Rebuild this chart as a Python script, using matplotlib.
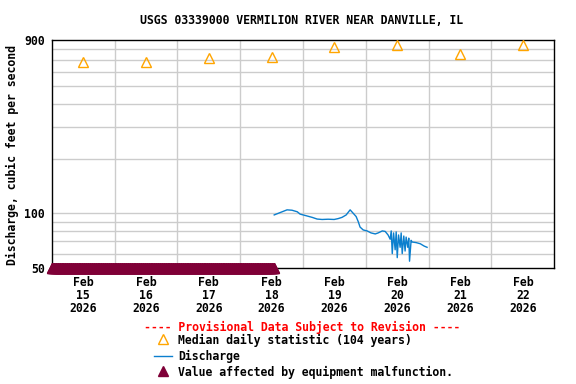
import numpy as np
import pandas as pd
import matplotlib
matplotlib.use('Agg')
import matplotlib.pyplot as plt
import matplotlib.dates as mdates
from matplotlib.lines import Line2D

plt.rcParams['font.family'] = ['DejaVu Sans Mono']
plt.rcParams['font.weight'] = 'bold'
plt.rcParams['font.size'] = 8.3

# data
start = pd.Timestamp('2026-02-15 00:00')
median_days = ['2026-02-15', '2026-02-16', '2026-02-17', '2026-02-18',
               '2026-02-19', '2026-02-20', '2026-02-21', '2026-02-22']
median_cfs = [678, 678, 714, 725, 820, 846, 750, 846]

# discharge, hours after Feb 15 00:00
q_hours = [85.0, 87.3, 88.8, 89.9, 91.8, 93.8, 94.9, 97.2, 99.5, 101.4,
           103.3, 105.6, 107.9, 109.4, 110.9, 112.5, 114.0, 115.2, 116.3, 117.1,
           117.8, 119.0, 120.5, 122.0, 123.6, 124.7, 126.3, 127.4, 128.5,
           129.3, 129.7, 130.1, 130.6, 131.2, 131.6, 132.0, 132.5, 133.1, 133.5,
           133.9, 134.5, 135.0, 135.4, 136.0, 136.4, 136.7, 137.3, 137.7,
           139.2, 140.8, 142.3, 143.4]
q_cfs = [98, 101, 103, 104.5, 104, 102, 99, 97, 95, 93,
         92.5, 92.8, 92.5, 93.5, 95, 98, 104.5, 100, 96, 90,
         84, 81, 80, 78, 77, 78, 80, 79.5, 76,
         72, 80, 60, 78, 63, 79, 57, 76, 65, 78,
         60, 75, 62, 74, 65, 73, 54.5, 71, 69.5,
         69, 68, 66, 65]

# equipment malfunction period (values drawn at the bottom of the axis)
malf_start = '2026-02-15 00:00'
malf_end = '2026-02-18 13:00'

tick_days = median_days
yticks = [50, 100, 900]

W, H = 576, 384
fig = plt.figure(figsize=(W / 100, H / 100), dpi=100)
ax = fig.add_axes([51.7 / W, 1 - 268 / H, (554.3 - 51.7) / W, (268 - 40) / H])

ax.set_yscale('log')
ax.set_ylim(50, 900)
ax.set_xlim(start, start + pd.Timedelta(days=8))

# grid
minor_y = [60, 70, 80, 90, 200, 300, 400, 500, 600, 700, 800]
for v in minor_y + [100]:
    ax.axhline(v, color='#cccccc', lw=1, zorder=0)
for d in range(1, 8):
    ax.axvline(start + pd.Timedelta(days=d), color='#cccccc', lw=1, zorder=0)

ax.set_yticks(yticks)
ax.set_yticklabels([str(v) for v in yticks])
ax.yaxis.set_minor_locator(matplotlib.ticker.NullLocator())
ax.yaxis.set_minor_formatter(matplotlib.ticker.NullFormatter())

xt = [pd.Timestamp(d) + pd.Timedelta(hours=12) for d in tick_days]
ax.set_xticks(xt)
ax.set_xticklabels([pd.Timestamp(d).strftime('%b\n%d\n%Y') for d in tick_days],
                   linespacing=1.0)
ax.tick_params(axis='x', length=0, pad=6)
ax.tick_params(axis='y', length=0, pad=5)
for s in ax.spines.values():
    s.set_linewidth(1)

# median triangles
mx = [pd.Timestamp(d) + pd.Timedelta(hours=12) for d in median_days]
ax.plot(mx, median_cfs, linestyle='none', marker='^', markersize=7.5,
        markerfacecolor='none', markeredgecolor='#ffa500', markeredgewidth=1, zorder=3)

# discharge
qx = [start + pd.Timedelta(hours=h) for h in q_hours]
ax.plot(qx, q_cfs, color='#0b7fce', lw=1, zorder=3)

# equipment malfunction markers
mt = pd.date_range(malf_start, malf_end, freq='15min')
ax.plot(mt, [50] * len(mt), linestyle='none', marker='^', markersize=7,
        color='#7f0037', clip_on=False, zorder=4)

fig.text(302 / W, 1 - 20 / H, 'USGS 03339000 VERMILION RIVER NEAR DANVILLE, IL',
         ha='center', va='center')
fig.text(12 / W, 1 - 155 / H, 'Discharge, cubic feet per second',
         ha='center', va='center', rotation=90)

fig.text(302 / W, 1 - 327 / H, '---- Provisional Data Subject to Revision ----',
         ha='center', va='center', color='red')

rows = [340, 356.5, 372.5]
labels = ['Median daily statistic (104 years)', 'Discharge',
          'Value affected by equipment malfunction.']
for y, lab in zip(rows, labels):
    fig.text(178 / W, 1 - y / H, lab, ha='left', va='center')

fig.add_artist(Line2D([162.7 / W], [1 - 339 / H], marker='^', markersize=7.5,
                      markerfacecolor='none', markeredgecolor='#ffa500',
                      linestyle='none', transform=fig.transFigure))
fig.add_artist(Line2D([154 / W, 172 / W], [1 - 356 / H, 1 - 356 / H],
                      color='#0b7fce', lw=1, transform=fig.transFigure))
fig.add_artist(Line2D([162.7 / W], [1 - 371 / H], marker='^', markersize=7,
                      color='#7f0037', linestyle='none', transform=fig.transFigure))

fig.savefig('out.png', dpi=100)
